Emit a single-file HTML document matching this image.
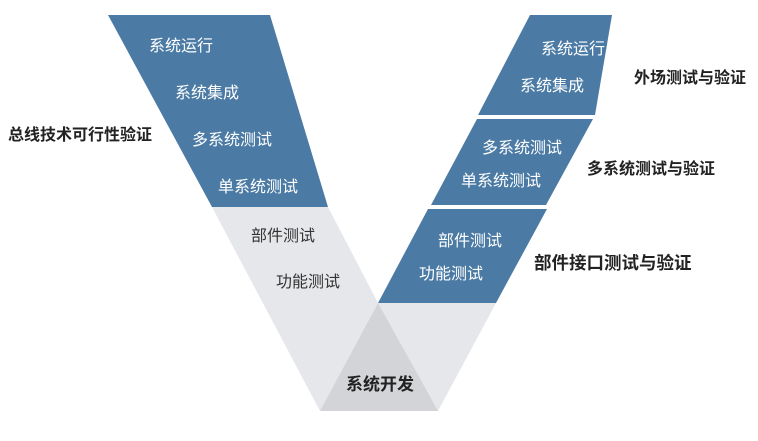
<!DOCTYPE html>
<html><head><meta charset="utf-8"><style>
html,body{margin:0;padding:0;background:#fff;}
svg text{font-family:"Liberation Sans","Noto Sans CJK SC",sans-serif;}
</style></head><body>
<svg width="758" height="436" viewBox="0 0 758 436" xmlns="http://www.w3.org/2000/svg">
<polygon points="212,207 328,207 378,303 320,411" fill="#e6e7ea"/>
<polygon points="108,15 270,15 328,207 212,207" fill="#4b7ba4"/>
<polygon points="378,303 496,303 438,411 320,411" fill="#e6e7ea"/>
<polygon points="378,303 438,411 320,411" fill="#d3d4d7"/>
<polygon points="530,15 612,15 595,115 478,115" fill="#4b7ba4"/>
<polygon points="477,119 593,119 546,205 431,205" fill="#4b7ba4"/>
<polygon points="428,209 547,209 496,303 378,303" fill="#4b7ba4"/>
<g font-size="16" fill="#fff" text-anchor="middle">
<text x="181" y="51">系统运行</text>
<text x="207" y="98">系统集成</text>
<text x="232" y="145">多系统测试</text>
<text x="258" y="192">单系统测试</text>
<text x="573" y="54">系统运行</text>
<text x="552" y="91">系统集成</text>
<text x="522" y="153">多系统测试</text>
<text x="501" y="186">单系统测试</text>
<text x="470" y="246">部件测试</text>
<text x="451" y="279">功能测试</text>
</g>
<g font-size="16" fill="#333" text-anchor="middle">
<text x="283" y="241">部件测试</text>
<text x="308" y="287">功能测试</text>
</g>
<g font-size="16" font-weight="bold" fill="#222">
<text x="8" y="140">总线技术可行性验证</text>
<text x="634" y="83">外场测试与验证</text>
<text x="587" y="174">多系统测试与验证</text>
<text x="534" y="269" font-size="17.5">部件接口测试与验证</text>
<text x="380" y="390" text-anchor="middle" font-size="17">系统开发</text>
</g>
</svg>
</body></html>
